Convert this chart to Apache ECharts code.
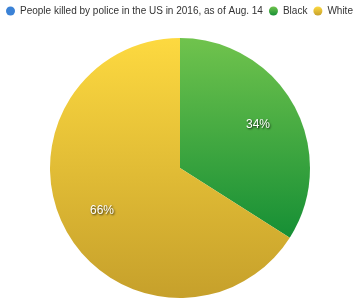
<!DOCTYPE html>
<html><head><meta charset="utf-8">
<script src="https://cdn.jsdelivr.net/npm/echarts@6/dist/echarts.min.js"></script>
<style>html,body{margin:0;padding:0;background:#fff}#c{width:360px;height:300px}</style>
</head><body><div id="c"></div>
<script>
var seriesTitle = 'People killed by police in the US in 2016, as of Aug. 14';
var categories = ['Black', 'White'];
var values = [34, 66];
var topColors = ['#70c34d', '#fdd940'];
var bottomColors = ['#168f35', '#c6a02b'];

var chart = echarts.init(document.getElementById('c'));
var font = '"Liberation Sans", Arial, sans-serif';
var mainData = categories.map(function (n, i) {
  return {
    name: n, value: values[i],
    itemStyle: { color: new echarts.graphic.LinearGradient(0, 0, 0, 1, [
      { offset: 0, color: topColors[i] }, { offset: 1, color: bottomColors[i] }]) }
  };
});
var labelData = categories.map(function (n, i) { return { name: n, value: values[i] }; });
chart.setOption({
  animation: false,
  legend: {
    data: [seriesTitle].concat(categories),
    left: 1, top: 1, width: 600,
    icon: 'circle', itemWidth: 9, itemHeight: 9, itemGap: 6,
    textStyle: { fontFamily: font, fontSize: 10, color: '#333' }
  },
  grid: { show: false, left: 0, right: 0, top: 0, bottom: 0 },
  xAxis: { show: false, type: 'category', data: [] },
  yAxis: { show: false, type: 'value' },
  series: [
    { name: seriesTitle, type: 'line', data: [], color: '#3b82d6' },
    {
      type: 'pie', name: 'main', center: [180, 168], radius: [0, 130],
      startAngle: 90, clockwise: true, label: { show: false }, labelLine: { show: false },
      silent: true, data: mainData
    },
    {
      type: 'pie', name: 'labels', center: [180, 168], radius: [0, 172],
      startAngle: 90, clockwise: true, silent: true, z: 5,
      itemStyle: { color: 'rgba(0,0,0,0)' },
      labelLine: { show: false },
      label: {
        show: true, position: 'inside', formatter: '{d}%',
        fontFamily: font, fontSize: 12, color: '#fff',
        textShadowColor: 'rgba(0,0,0,0.8)', textShadowBlur: 2, textShadowOffsetX: 1, textShadowOffsetY: 1
      },
      data: labelData
    }
  ]
});
</script></body></html>
